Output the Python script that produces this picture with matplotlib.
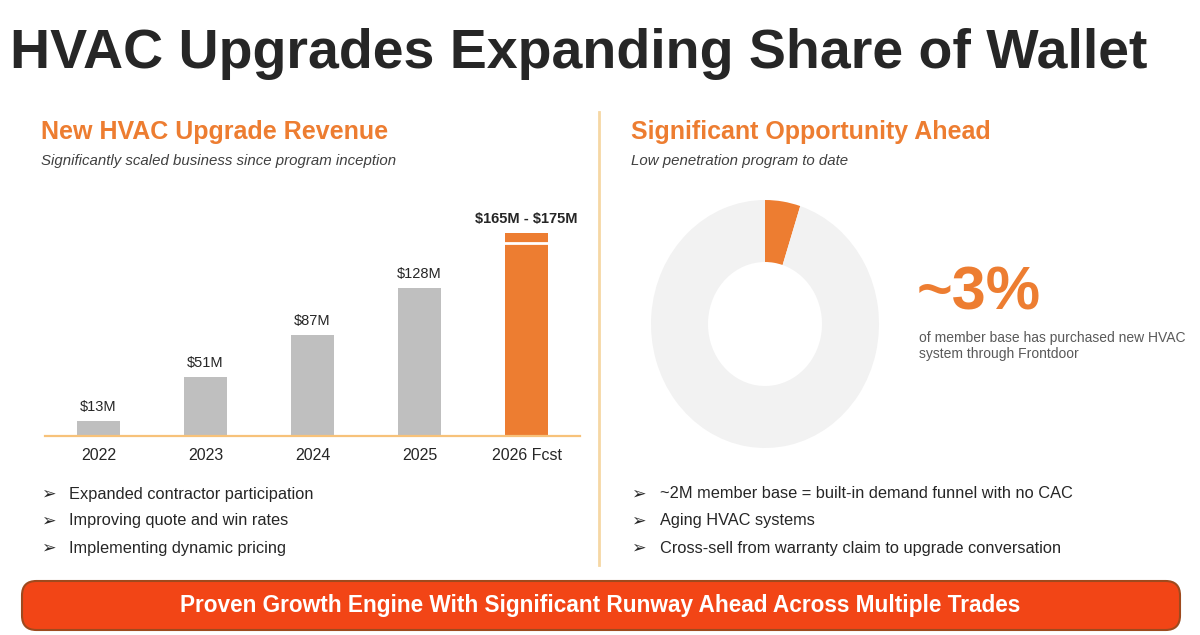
import matplotlib
matplotlib.use("Agg")
import matplotlib.pyplot as plt
from matplotlib.patches import FancyBboxPatch

# -------------------------------
# DATA
# -------------------------------
years = ["2022", "2023", "2024", "2025", "2026 Fcst"]
revenue = [13, 51, 87, 128, 165]      # $M (2026 = low end of forecast)
fcst_range = [165, 175]              # 2026 forecast range
value_labels = ["$13M", "$51M", "$87M", "$128M", "$165M - $175M"]

slice_pct = [5, 95]                  # drawn share of the ring
penetration_label = "~3%"

left_bullets = ["Expanded contractor participation",
                "Improving quote and win rates",
                "Implementing dynamic pricing"]
right_bullets = ["~2M member base = built-in demand funnel with no CAC",
                 "Aging HVAC systems",
                 "Cross-sell from warranty claim to upgrade conversation"]

# -------------------------------
# STYLE
# -------------------------------
ORANGE = "#ED7D31"
GREY_BAR = "#BFBFBF"
DARK = "#262626"
W, H = 1200, 635
FONT = ["Liberation Sans", "DejaVu Sans"]
plt.rcParams["font.family"] = FONT
plt.rcParams["text.parse_math"] = False

fig = plt.figure(figsize=(12, 6.35), dpi=100)


def fx(px):
    return px / W


def fy(py):
    return 1 - py / H


def txt(x, y, s, **kw):
    fig.text(fx(x), fy(y), s, **kw)


# title
txt(10, 68, "HVAC Upgrades Expanding Share of Wallet", fontsize=40,
    fontweight="bold", color=DARK, va="baseline", ha="left")

# section headers
txt(41, 139, "New HVAC Upgrade Revenue", fontsize=18, fontweight="bold",
    color=ORANGE, va="baseline")
txt(41, 165.5, "Significantly scaled business since program inception",
    fontsize=10.8, style="italic", color="#404040", va="baseline")
txt(631, 139, "Significant Opportunity Ahead", fontsize=18, fontweight="bold",
    color=ORANGE, va="baseline")
txt(631, 165.5, "Low penetration program to date", fontsize=10.8,
    style="italic", color="#404040", va="baseline")

# divider
fig.add_artist(plt.Line2D([fx(599), fx(599)], [fy(112), fy(565)],
                          color="#F6D7A4", lw=2))

# -------------------------------
# BAR CHART
# -------------------------------
y0, y1 = 204, 436
ax = fig.add_axes([fx(45), fy(y1), fx(580 - 45), (y1 - y0) / H])
pos = range(len(years))
colors = [GREY_BAR] * 4 + [ORANGE]
ax.bar(pos, revenue, width=0.41, color=colors)
ax.bar(4, fcst_range[1] - fcst_range[0], bottom=fcst_range[0], width=0.41,
       color=ORANGE, linewidth=0)
ax.plot([4 - 0.205, 4 + 0.205], [fcst_range[0] + 1.2] * 2, color="white", lw=2)
ax.set_xlim(-0.5, 4.5)
ax.set_ylim(0, 200)
for i, lab in enumerate(value_labels):
    top = fcst_range[1] if i == 4 else revenue[i]
    ax.text(i, top + 6, lab, ha="center", va="bottom", fontsize=10.5,
            color=DARK, fontweight="bold" if i == 4 else "normal")
for s in ["top", "right", "left"]:
    ax.spines[s].set_visible(False)
ax.spines["bottom"].set_color("#F7C27A")
ax.spines["bottom"].set_linewidth(1.6)
ax.set_yticks([])
ax.set_xticks(list(pos))
ax.set_xticklabels(years, fontsize=11.5, color=DARK)
ax.tick_params(axis="x", length=0, pad=9)

# -------------------------------
# DONUT
# -------------------------------
cx, cy, rx, ry = 765, 324, 114, 124
ax2 = fig.add_axes([fx(cx - rx), fy(cy + ry), fx(2 * rx), 2 * ry / H])
ax2.pie(slice_pct, colors=[ORANGE, "#F2F2F2"], startangle=90, counterclock=False,
        radius=1, wedgeprops=dict(width=0.5, linewidth=0))
ax2.set_xlim(-1, 1)
ax2.set_ylim(-1, 1)
ax2.set_aspect("auto")
ax2.axis("off")

txt(917, 310, penetration_label, fontsize=44, fontweight="bold", color=ORANGE,
    va="baseline")
txt(919, 346, "of member base has purchased new HVAC\nsystem through Frontdoor",
    fontsize=10, color="#595959", va="center", linespacing=1.25)

# -------------------------------
# BULLETS
# -------------------------------
for i, b in enumerate(left_bullets):
    yy = 494 + i * 27
    txt(41, yy, "\u27A2", fontsize=12.5, color=DARK, va="center", family="DejaVu Sans")
    txt(69, yy, b, fontsize=11.8, color=DARK, va="center")
for i, b in enumerate(right_bullets):
    yy = 494 + i * 27
    txt(631, yy, "\u27A2", fontsize=12.5, color=DARK, va="center", family="DejaVu Sans")
    txt(660, yy, b, fontsize=11.8, color=DARK, va="center")

# -------------------------------
# BANNER
# -------------------------------
banner = FancyBboxPatch((fx(22), fy(630)), fx(1180 - 22), (630 - 581) / H,
                        boxstyle="round,pad=0,rounding_size=0.012",
                        transform=fig.transFigure, facecolor="#F24516",
                        edgecolor="#9E4A1E", linewidth=1.5,
                        mutation_aspect=W / H)
fig.add_artist(banner)
txt(600, 612, "Proven Growth Engine With Significant Runway Ahead Across Multiple Trades",
    fontsize=16.3, fontweight="bold", color="white", ha="center", va="baseline")

fig.savefig("out.png", dpi=100)
